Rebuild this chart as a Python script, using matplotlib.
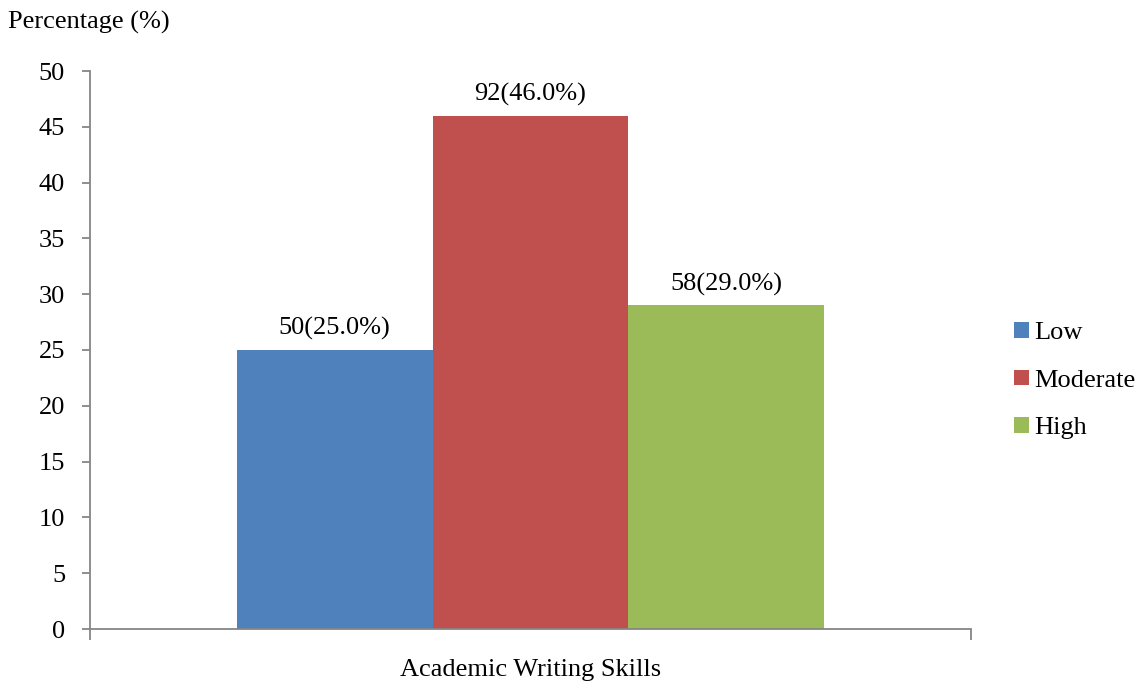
import numpy as np
import matplotlib.pyplot as plt

plt.rcParams['font.family'] = ['Liberation Serif', 'DejaVu Serif']

levels = ['Low', 'Moderate', 'High']
counts = [50, 92, 58]
percents = [25.0, 46.0, 29.0]
colors = ['#4F81BD', '#C0504D', '#9BBB59']

fig = plt.figure(figsize=(11.41, 6.86), dpi=100)
ax = fig.add_axes([90/1141, 1-629/686, (971-90)/1141, (629-71)/686])

w = 1/4.5
offsets = np.array([-1, 0, 1]) * w
for off, lev, c, n, p in zip(offsets, levels, colors, counts, percents):
    ax.bar(off, p, width=w, color=c, label=lev)
    ax.annotate(f'{n}({p:.1f}%)', (off, p), xytext=(0, 7), textcoords='offset points',
                ha='center', va='bottom', fontsize=19)

ax.set_xlim(-0.5, 0.5)
ax.set_ylim(0, 50)
ax.set_yticks(np.arange(0, 51, 5))
ax.set_xticks([-0.5, 0.5])
ax.set_xticklabels(['', ''])
for s in ['top', 'right']:
    ax.spines[s].set_visible(False)
for s in ['left', 'bottom']:
    ax.spines[s].set_color('#868686')
    ax.spines[s].set_linewidth(1.3)
ax.tick_params(axis='y', direction='out', length=6, width=1.3, color='#868686', labelsize=19, pad=12)
ax.tick_params(axis='x', direction='out', length=8, width=1.3, color='#868686')
ax.set_xlabel('Academic Writing Skills', fontsize=19, labelpad=10)

fig.text(8/1141, 1-22/686, 'Percentage (%)', fontsize=19, va='center', ha='left')

ax.legend(loc='center left', bbox_to_anchor=(1.049, 0.445), frameon=False, fontsize=19,
          handlelength=0.55, handleheight=0.55, handletextpad=0.2, labelspacing=0.95,
          borderaxespad=0, borderpad=0)

plt.savefig('out.png', dpi=100)
